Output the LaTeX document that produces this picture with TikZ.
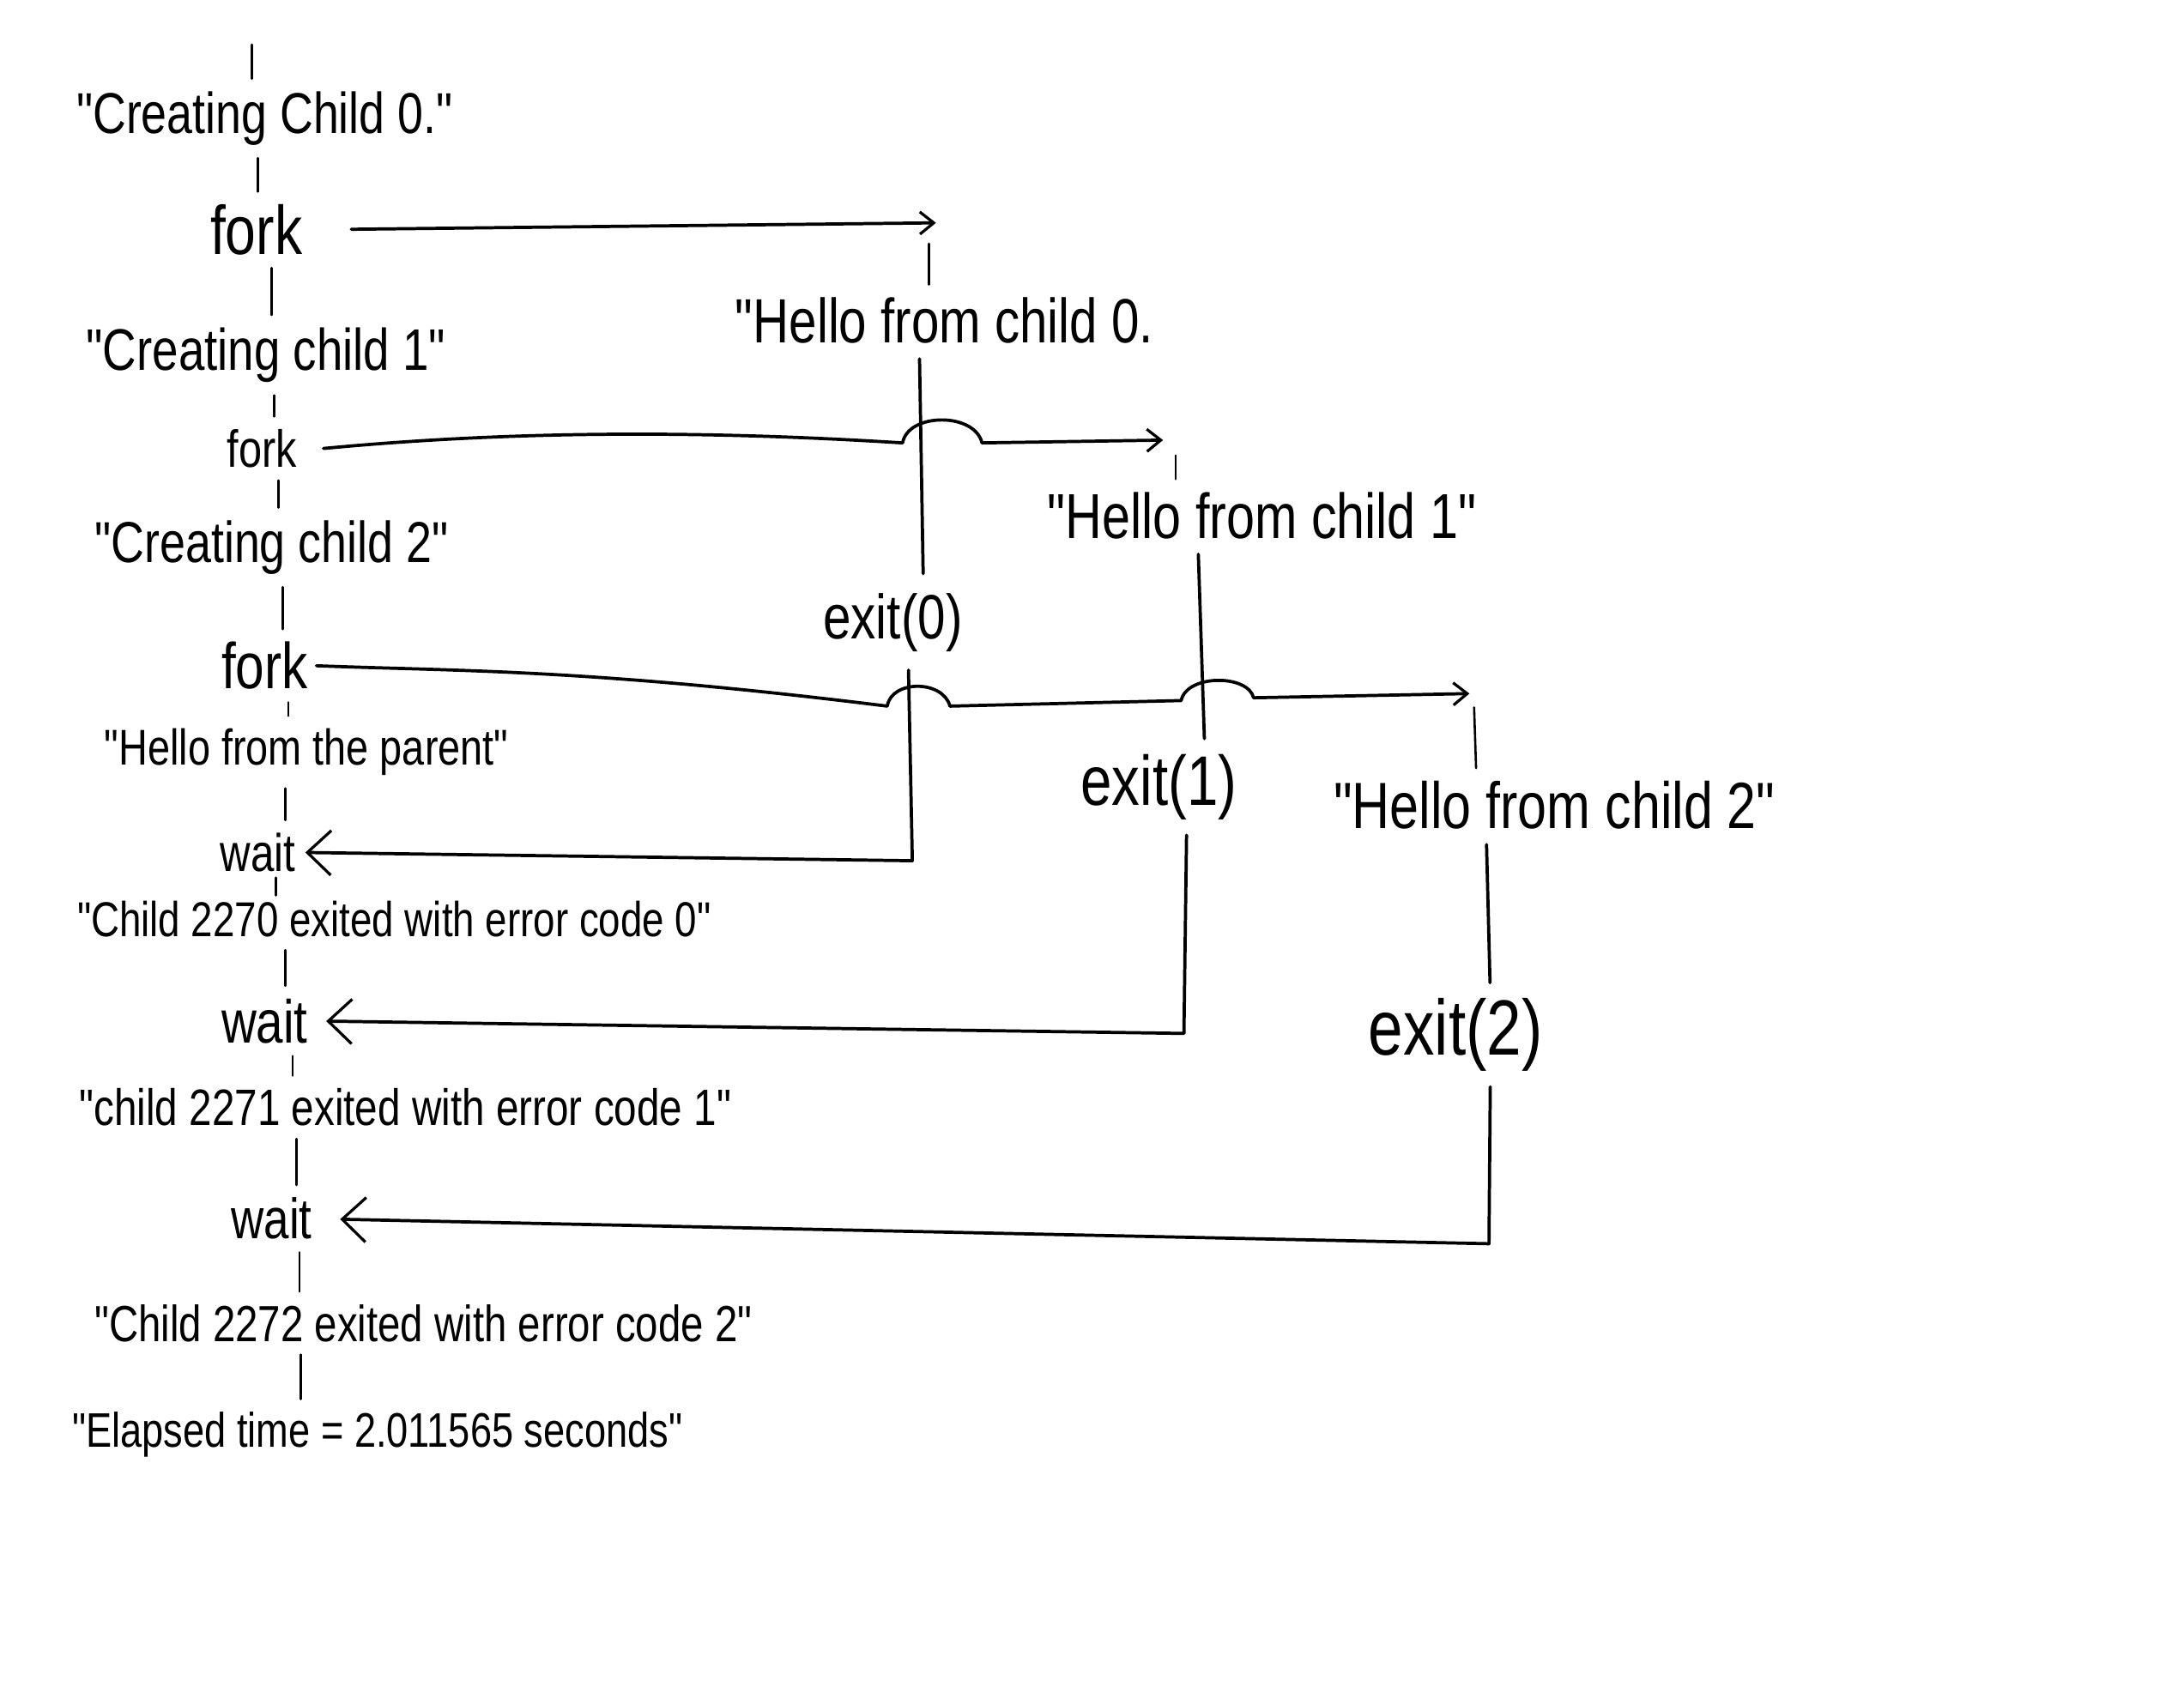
\documentclass[tikz,border=0pt]{standalone}
\usepackage{fontspec}
\usepackage{graphicx}
\newfontfamily\handfont[FakeStretch=0.8]{Liberation Sans}
\usetikzlibrary{arrows.meta}
\newcommand\hw[2]{\resizebox{#1pt}{!}{\handfont #2}}
\tikzset{
  lbl/.style={inner sep=1pt, anchor=center},
  tl/.style={line width=1.6pt, line cap=round, shorten <=8pt, shorten >=8pt},
  conn/.style={line width=2.3pt, line cap=round, line join=round},
  fwd/.style={conn, -{Straight Barb[length=10pt, width=16pt, line width=2pt]}},
  back/.style={conn, -{Straight Barb[length=17pt, width=32pt, line width=2pt]}},
}
\begin{document}
\begin{tikzpicture}[x=1pt, y=-1pt]
\useasboundingbox (0,0) rectangle (1568,1215);
\fill[white] (0,0) rectangle (1568,1215);

% parent column
\node[lbl] (c0) at (190,85)  {\hw{270}{"Creating Child 0."}};
\node[lbl] (f0) at (184,165) {\hw{66}{fork}};
\node[lbl] (c1) at (191,255) {\hw{258}{"Creating child 1"}};
\node[lbl] (f1) at (188,322) {\hw{50}{fork}};
\node[lbl] (c2) at (195,393) {\hw{254}{"Creating child 2"}};
\node[lbl] (f2) at (190,478) {\hw{62}{fork}};
\node[lbl] (hp) at (220,540) {\hw{290}{"Hello from the parent"}};
\node[lbl] (w0) at (185,612) {\hw{54}{wait}};
\node[lbl] (x0) at (283,660) {\hw{455}{"Child 2270 exited with error code 0"}};
\node[lbl] (w1) at (190,733) {\hw{62}{wait}};
\node[lbl] (x1) at (291,795) {\hw{468}{"child 2271 exited with error code 1"}};
\node[lbl] (w2) at (195,875) {\hw{58}{wait}};
\node[lbl] (x2) at (304,950) {\hw{472}{"Child 2272 exited with error code 2"}};
\node[lbl] (el) at (271,1030) {\hw{438}{"Elapsed time = 2.011565 seconds"}};

% children
\node[lbl] (h0) at (678,230) {\hw{300}{"Hello from child 0.}};
\node[lbl] (e0) at (641,447) {\hw{100}{exit(0)}};
\node[lbl] (h1) at (906,370) {\hw{308}{"Hello from child 1"}};
\node[lbl] (e1) at (832,565) {\hw{112}{exit(1)}};
\node[lbl] (h2) at (1116,578) {\hw{317}{"Hello from child 2"}};
\node[lbl] (e2) at (1045,743) {\hw{125}{exit(2)}};

% arrow ends and corners
\coordinate (top) at (181,32);
\coordinate (a0) at (672,160);
\coordinate (a1) at (835,316);
\coordinate (a2) at (1055,498);
\coordinate (k0) at (655,618);
\coordinate (k1) at (850,742);
\coordinate (k2) at (1069,893);

% parent timeline ticks
\draw[tl, shorten <=0pt] (top) -- (c0.north -| 181,0);
\draw[tl] (c0.south -| 185,0) -- (f0.north -| 185,0);
\draw[tl] (f0.south -| 195,0) -- (c1.north -| 195,0);
\draw[tl] (c1.south -| 197,0) -- (f1.north -| 197,0);
\draw[tl] (f1.south -| 200,0) -- (c2.north -| 200,0);
\draw[tl] (c2.south -| 203,0) -- (f2.north -| 203,0);
\draw[tl] (f2.south -| 207,0) -- (hp.north -| 207,0);
\draw[tl] (hp.south -| 205,0) -- (w0.north -| 205,0);
\draw[tl, shorten <=3pt, shorten >=3pt] (w0.south -| 198,0) -- (x0.north -| 198,0);
\draw[tl] (x0.south -| 205,0) -- (w1.north -| 205,0);
\draw[tl] (w1.south -| 210,0) -- (x1.north -| 210,0);
\draw[tl] (x1.south -| 213,0) -- (w2.north -| 213,0);
\draw[tl] (w2.south -| 215,0) -- (x2.north -| 215,0);
\draw[tl] (x2.south -| 216,0) -- (el.north -| 216,0);

% fork arrows
\draw[fwd, shorten <=34pt] (f0.east) -- (a0);
\draw[fwd] ([xshift=18pt]f1.east) .. controls (380,308) and (520,310) .. (648,318)
  .. controls (652,296) and (700,296) .. (705,318) -- (a1);
\draw[fwd] ([xshift=5pt]f2.east) .. controls (330,482) and (420,480) .. (637,507)
  .. controls (640,488) and (677,488) .. (682,507) -- (848,503)
  .. controls (852,484) and (896,484) .. (900,501) -- (a2);

% child timelines
\draw[tl, shorten <=15pt] (a0 -| 667,0) -- (h0.north -| 667,0);
\draw[conn, shorten <=10pt, shorten >=13pt] (h0.south -| 660,0) -- (e0.north -| 663,0);
\draw[back, shorten <=12pt, shorten >=6pt] (e0.south -| 652,0) -- (k0) -- (w0.east);

\draw[tl, shorten <=11pt] (a1 -| 844,0) -- (h1.north -| 844,0);
\draw[conn, shorten <=10pt, shorten >=10pt] (h1.south -| 860,0) -- (e1.north -| 865,0);
\draw[back, shorten <=10pt, shorten >=12pt] (e1.south -| 852,0) -- (k1) -- (w1.east);

\draw[tl, shorten <=10pt] (a2 -| 1058,0) -- (h2.north -| 1060,0);
\draw[conn, shorten <=10pt, shorten >=10pt] (h2.south -| 1067,0) -- (e2.north -| 1070,0);
\draw[back, shorten <=10pt, shorten >=19pt] (e2.south -| 1070,0) -- (k2) -- (w2.east);
\end{tikzpicture}
\end{document}
